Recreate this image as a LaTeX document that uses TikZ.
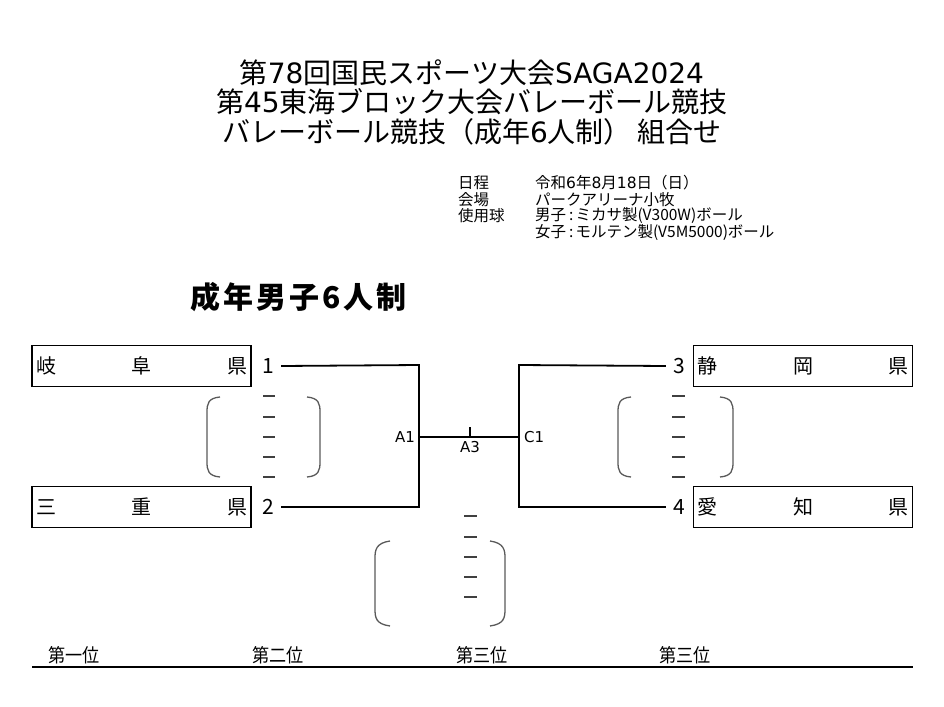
\documentclass[tikz,border=0pt]{standalone}
\usepackage{fontspec}
\setmainfont{Noto Sans CJK JP}
\newfontfamily\latinfont{DejaVu Sans}
\newcommand{\lt}[1]{{\latinfont #1}}
\begin{document}
\begin{tikzpicture}[x=1pt,y=-1pt,
  title/.style={font=\fontsize{28}{29.5}\selectfont, align=center, inner sep=0pt},
  info/.style={font=\fontsize{15.5}{17}\selectfont, anchor=west, inner sep=0pt},
  teambox/.style={draw, line width=1.6pt, minimum width=219pt, minimum height=41pt, inner sep=0pt, font=\fontsize{20}{22}\selectfont},
  num/.style={font=\fontsize{21}{23}\selectfont, inner xsep=7pt, inner ysep=0pt},
  bline/.style={line width=1.8pt},
  small/.style={font=\latinfont\fontsize{15}{17}\selectfont, inner sep=0pt},
  paren/.style={line width=1.3pt, draw=black!65},
  scoredash/.style={line width=1.4pt, draw=black!75},
  rank/.style={font=\fontsize{19}{21}\selectfont, inner sep=0pt}]
\useasboundingbox (0,0) rectangle (944,706);
% title
\node[title] (title) at (472,102) {第\lt{78}回国民スポーツ大会\lt{SAGA2024}\\第\lt{45}東海ブロック大会バレーボール競技\\バレーボール競技（成年\lt{6}人制）\hspace{6pt}組合せ};
% info
\node[info] (i1) at (458,183) {日程};
\node[info] (i2) at (458,199.5) {会場};
\node[info] (i3) at (458,216) {使用球};
\node[info] (v1) at (535,183) {令和\lt{6}年\lt{8}月\lt{18}日（日）};
\node[info] (v2) at (535,199.5) {パークアリーナ小牧};
\node[info] (v3) at (535,216) {男子\hspace{3pt}:\hspace{2pt}ミカサ製(V300W)ボール};
\node[info] (v4) at (535,233) {女子\hspace{3pt}:\hspace{2pt}モルテン製(V5M5000)ボール};
% section heading
\node[font=\fontsize{30}{32}\selectfont\bfseries, anchor=west, inner sep=0pt] (sec) at (190,297) {成\kern3pt 年\kern3pt 男\kern3pt 子\kern3pt 6\kern3pt 人\kern3pt 制};
% team boxes
\node[teambox] (gifu) at (141.5,366) {\makebox[211pt]{岐\hfill 阜\hfill 県}};
\node[teambox] (mie) at (141.5,507) {\makebox[211pt]{三\hfill 重\hfill 県}};
\node[teambox] (shizuoka) at (803,366) {\makebox[211pt]{静\hfill 岡\hfill 県}};
\node[teambox] (aichi) at (803,507) {\makebox[211pt]{愛\hfill 知\hfill 県}};
% numbers
\node[num] (n1) at (268,366) {1};
\node[num] (n2) at (268,507) {2};
\node[num] (n3) at (679,366) {3};
\node[num] (n4) at (679,507) {4};
% bracket
\coordinate (lt) at (419,365);
\coordinate (lb) at (419,507);
\coordinate (rt) at (519,365);
\coordinate (rb) at (519,507);
\coordinate (a1) at (419,437);
\coordinate (c1) at (519,437);
\coordinate (a3) at (470,437);
\coordinate (a3t) at (470,427);
\draw[bline] (n1.east) -- (lt) -- (lb) -- (n2.east);
\draw[bline] (n3.west) -- (rt) -- (rb) -- (n4.west);
\draw[bline] (a1) -- (c1);
\draw[line width=1.2pt] (a3) -- (a3t);
\node[small, anchor=east] (la1) at (415,437) {A1};
\node[small, anchor=west] (lc1) at (524,437) {C1};
\node[small, anchor=north] (la3) at (470,441) {A3};
% score brackets left
\draw[paren] (220,397) .. controls (208,398) and (207,404) .. (207,412) -- (207,462) .. controls (207,470) and (208,476) .. (220,477);
\draw[paren] (307,397) .. controls (319,398) and (320,404) .. (320,412) -- (320,462) .. controls (320,470) and (319,476) .. (307,477);
\foreach \y in {396,417,437,457,477} \draw[scoredash] (263,\y) -- (275,\y);
% score brackets right
\draw[paren] (631,397) .. controls (619,398) and (618,404) .. (618,412) -- (618,462) .. controls (618,470) and (619,476) .. (631,477);
\draw[paren] (720,397) .. controls (732,398) and (733,404) .. (733,412) -- (733,462) .. controls (733,470) and (732,476) .. (720,477);
\foreach \y in {396,417,437,457,477} \draw[scoredash] (672,\y) -- (685,\y);
% score brackets bottom
\draw[paren] (390,541) .. controls (376,543) and (375,550) .. (375,558) -- (375,609) .. controls (375,618) and (376,624) .. (390,626);
\draw[paren] (490,541) .. controls (504,543) and (505,550) .. (505,558) -- (505,609) .. controls (505,618) and (504,624) .. (490,626);
\foreach \y in {516,537,557,577,597} \draw[scoredash] (464,\y) -- (477,\y);
% ranks
\node[rank] (r1) at (74,655) {\scalebox{0.9}[1]{第一位}};
\node[rank] (r2) at (278,655) {\scalebox{0.9}[1]{第二位}};
\node[rank] (r3) at (482,655) {\scalebox{0.9}[1]{第三位}};
\node[rank] (r4) at (685,655) {\scalebox{0.9}[1]{第三位}};
\coordinate (bl) at (32,667);
\coordinate (br) at (913,667);
\draw[line width=2.4pt] (bl) -- (br);
\end{tikzpicture}
\end{document}
